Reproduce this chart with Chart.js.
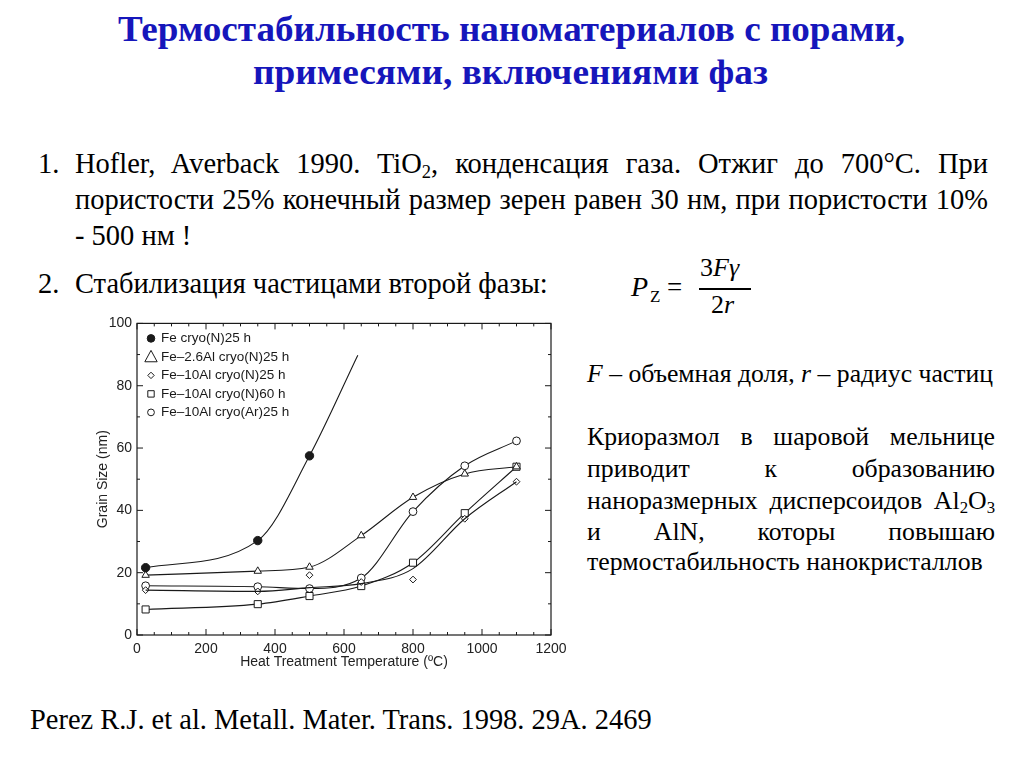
<!DOCTYPE html>
<html><head><meta charset="utf-8">
<script src="https://cdn.jsdelivr.net/npm/chart.js@4/dist/chart.umd.min.js"></script>
<style>
html,body{margin:0;padding:0;background:#fff;}
body{width:1024px;height:767px;position:relative;overflow:hidden;font-family:"Liberation Serif","Times New Roman",serif;color:#000;}
.t{position:absolute;white-space:nowrap;line-height:1;transform-origin:0 0;}
.title{color:#1616bb;font-weight:bold;font-size:36.5px;}
.b{font-size:24px;}
sub{font-size:0.65em;vertical-align:-0.25em;line-height:0;}
i{font-style:italic;}
#chartBox{position:absolute;left:80px;top:310px;width:500px;height:370px;}
</style></head><body>
<div class="t title" data-s="787" style="left:118px;top:11px">Термостабильность наноматериалов с порами,</div>
<div class="t title" data-s="515" style="left:253px;top:54px">примесями, включениями фаз</div>

<div class="t b" data-g="body" style="left:38px;top:152px">1.</div>
<div class="t b" data-g="body" data-w="913" style="left:75px;top:152px">Hofler, Averback 1990. TiO<sub>2</sub>, конденсация газа. Отжиг до 700°C. При</div>
<div class="t b" data-g="body" data-w="913" style="left:75px;top:188px">пористости 25% конечный размер зерен равен 30 нм, при пористости 10%</div>
<div class="t b" data-g="body" style="left:75px;top:224px">- 500 нм !</div>

<div class="t b" data-g="body" style="left:38px;top:272px">2.</div>
<div class="t b" data-g="body" data-ref="473" style="left:75px;top:272px">Стабилизация частицами второй фазы:</div>

<div class="t" style="left:631px;top:273px;font-size:28px;font-style:italic">P</div>
<div class="t" style="left:650px;top:288px;font-size:17px">Z</div>
<div class="t" style="left:667px;top:274px;font-size:27px">=</div>
<div class="t" style="left:700px;top:255px;font-size:26px">3<i>F</i><i>γ</i></div>
<div style="position:absolute;left:699px;top:288px;width:52px;height:1.5px;background:#000"></div>
<div class="t" style="left:711px;top:292px;font-size:26px">2<i>r</i></div>

<div class="t b" data-g="side" data-w="406" style="left:587px;top:362px"><i>F</i> – объемная доля, <i>r</i> – радиус частиц</div>

<div class="t b" data-g="side" data-w="408" style="left:587px;top:425px">Криоразмол в шаровой мельнице</div>
<div class="t b" data-g="side" data-w="408" style="left:587px;top:457px">приводит к образованию</div>
<div class="t b" data-g="side" data-w="408" style="left:587px;top:489px">наноразмерных дисперсоидов Al<sub>2</sub>O<sub>3</sub></div>
<div class="t b" data-g="side" data-w="408" style="left:587px;top:520px">и AlN, которы повышаю</div>
<div class="t b" data-g="side" data-ref="396" style="left:587px;top:550px">термостабильность нанокристаллов</div>

<div class="t" data-g="cite" data-ref="622" style="left:30px;top:708px;font-size:25px">Perez R.J. et al. Metall. Mater. Trans. 1998. 29A. 2469</div>

<div id="chartBox"><canvas id="c" width="500" height="370"></canvas></div>

<script>
// ---- data ----
const seriesLabels = ['Fe cryo(N)25 h','Fe–2.6Al cryo(N)25 h','Fe–10Al cryo(N)25 h','Fe–10Al cryo(N)60 h','Fe–10Al cryo(Ar)25 h'];
const temps = [25, 350, 500, 650, 800, 950, 1100];
const feN25Temps = [25, 350, 500, 640];
const feN25Size = [21.6, 30.3, 57.5, 89.8];
const al26N25Size = [19.2, 20.5, 21.8, 31.9, 44.2, 51.7, 54.0];
const al10N25Size = [14.4, 14.0, 19.2, 17.0, 17.8, 37.3, 49.2];
const al10N25Curve = [14.4, 14.0, 15.2, 16.5, 21.3, 37.3, 49.2];
const al10N60Size = [8.2, 9.9, 12.5, 15.7, 23.2, 39.1, 54.0];
const al10Ar25Size = [15.8, 15.5, 14.9, 18.3, 39.6, 54.3, 62.3];
const xTicks = [0, 200, 400, 600, 800, 1000, 1200];
const yTicks = [0, 20, 40, 60, 80, 100];
const xTitle = 'Heat Treatment Temperature (ºC)';
const yTitle = 'Grain Size (nm)';

// ---- text fitting ----
const groups = {};
document.querySelectorAll('[data-g]').forEach(el => { (groups[el.dataset.g] = groups[el.dataset.g] || []).push(el); });
Object.values(groups).forEach(list => {
  const ref = list.find(e => e.dataset.ref);
  if (!ref) return;
  const base = parseFloat(getComputedStyle(ref).fontSize);
  const fs = base * (+ref.dataset.ref) / ref.getBoundingClientRect().width;
  list.forEach(el => {
    el.style.fontSize = fs + 'px';
    el.style.top = (parseFloat(el.style.top) + (base - fs) * 0.55) + 'px';
  });
});
document.querySelectorAll('[data-s]').forEach(el => {
  el.style.transform = 'scaleX(' + (+el.dataset.s / el.getBoundingClientRect().width) + ')';
});
document.querySelectorAll('[data-w]').forEach(el => {
  const target = +el.dataset.w;
  const nat = el.getBoundingClientRect().width;
  const n = (el.textContent.match(/ /g) || []).length;
  if (nat < target && n) el.style.wordSpacing = ((target - nat) / n) + 'px';
  else if (nat > target) el.style.transform = 'scaleX(' + (target / nat) + ')';
});

const pts = (xs, ys) => ys.map((y, i) => ({x: xs[i], y}));
const INK = '#1a1a1a';
const markerStyles = ['circle','triangle','rectRot','rect','circle'];

function drawMarker(ctx, style, x, y, r, filled) {
  ctx.beginPath();
  if (style === 'circle') ctx.arc(x, y, r, 0, Math.PI * 2);
  else if (style === 'triangle') { ctx.moveTo(x, y - r); ctx.lineTo(x + r * 0.95, y + r * 0.75); ctx.lineTo(x - r * 0.95, y + r * 0.75); ctx.closePath(); }
  else if (style === 'rectRot') { ctx.moveTo(x, y - r); ctx.lineTo(x + r, y); ctx.lineTo(x, y + r); ctx.lineTo(x - r, y); ctx.closePath(); }
  else if (style === 'rect') ctx.rect(x - r, y - r, 2 * r, 2 * r);
  ctx.fillStyle = filled ? INK : '#fff';
  ctx.fill();
  ctx.lineWidth = 1;
  ctx.strokeStyle = INK;
  ctx.stroke();
}

const framePlugin = {
  id: 'frame',
  afterDatasetsDraw(chart) {
    const {ctx, chartArea: a, scales} = chart;
    ctx.save();
    ctx.strokeStyle = INK;
    ctx.lineWidth = 1.2;
    ctx.strokeRect(a.left, a.top, a.right - a.left, a.bottom - a.top);
    ctx.lineWidth = 1;
    ctx.beginPath();
    for (let v = 0; v <= 1200; v += 50) {
      const p = scales.x.getPixelForValue(v);
      const len = v % 200 === 0 ? 6 : 3;
      ctx.moveTo(p, a.bottom); ctx.lineTo(p, a.bottom - len);
      ctx.moveTo(p, a.top); ctx.lineTo(p, a.top + len);
    }
    for (let v = 0; v <= 100; v += 10) {
      const p = scales.y.getPixelForValue(v);
      const len = v % 20 === 0 ? 6 : 3;
      ctx.moveTo(a.left, p); ctx.lineTo(a.left + len, p);
      ctx.moveTo(a.right, p); ctx.lineTo(a.right - len, p);
    }
    ctx.stroke();
    // legend
    ctx.font = '13.5px "Liberation Sans", Arial, sans-serif';
    ctx.textBaseline = 'middle';
    const sizes = [3.8, 6.5, 3.2, 3.2, 3.4];
    seriesLabels.forEach((lab, i) => {
      const y = a.top + 15 + i * 18.5;
      drawMarker(ctx, markerStyles[i], a.left + 14, y, sizes[i], i === 0);
      ctx.fillStyle = INK;
      ctx.fillText(lab, a.left + 24, y);
    });
    ctx.restore();
  }
};

const lineBase = {borderColor: INK, borderWidth: 1.1, cubicInterpolationMode: 'monotone', pointBorderColor: INK, pointBackgroundColor: '#fff', pointBorderWidth: 1};
const axisFont = {family: '"Liberation Sans", Arial, sans-serif', size: 14};

new Chart(document.getElementById('c'), {
  type: 'scatter',
  data: {
    datasets: [
      Object.assign({}, lineBase, {label: seriesLabels[0], data: pts(feN25Temps, feN25Size), showLine: true, pointStyle: 'circle', pointRadius: [4.2, 4.2, 4.2, 0], pointBackgroundColor: INK}),
      Object.assign({}, lineBase, {label: seriesLabels[1], data: pts(temps, al26N25Size), showLine: true, pointStyle: 'triangle', pointRadius: 4.3}),
      Object.assign({}, lineBase, {label: seriesLabels[2] + ' curve', data: pts(temps, al10N25Curve), showLine: true, pointRadius: 0}),
      Object.assign({}, lineBase, {label: seriesLabels[2], data: pts(temps, al10N25Size), showLine: false, pointStyle: 'rectRot', pointRadius: 3.4}),
      Object.assign({}, lineBase, {label: seriesLabels[3], data: pts(temps, al10N60Size), showLine: true, pointStyle: 'rect', pointRadius: 5}),
      Object.assign({}, lineBase, {label: seriesLabels[4], data: pts(temps, al10Ar25Size), showLine: true, pointStyle: 'circle', pointRadius: 3.9})
    ]
  },
  options: {
    responsive: false,
    devicePixelRatio: 1,
    animation: false,
    events: [],
    layout: {padding: {top: 13, right: 29, left: 0, bottom: 0}},
    plugins: {legend: {display: false}, tooltip: {enabled: false}},
    scales: {
      x: {
        type: 'linear', min: 0, max: 1200,
        afterBuildTicks: s => { s.ticks = xTicks.map(v => ({value: v})); },
        afterFit: s => { s.height = 45; },
        grid: {display: false, drawTicks: false},
        border: {display: false},
        ticks: {padding: 6, color: '#222', font: axisFont, maxRotation: 0, callback: v => String(v)},
        title: {display: true, text: xTitle, color: '#222', font: axisFont, padding: {top: 0, bottom: 9}}
      },
      y: {
        type: 'linear', min: 0, max: 100,
        afterBuildTicks: s => { s.ticks = yTicks.map(v => ({value: v})); },
        afterFit: s => { s.width = 57; },
        grid: {display: false, drawTicks: false},
        border: {display: false},
        ticks: {padding: 5, color: '#222', font: axisFont, callback: v => String(v)},
        title: {display: true, text: yTitle, color: '#222', font: axisFont, padding: {top: 15, bottom: 0}}
      }
    }
  },
  plugins: [framePlugin]
});
</script>
</body></html>
